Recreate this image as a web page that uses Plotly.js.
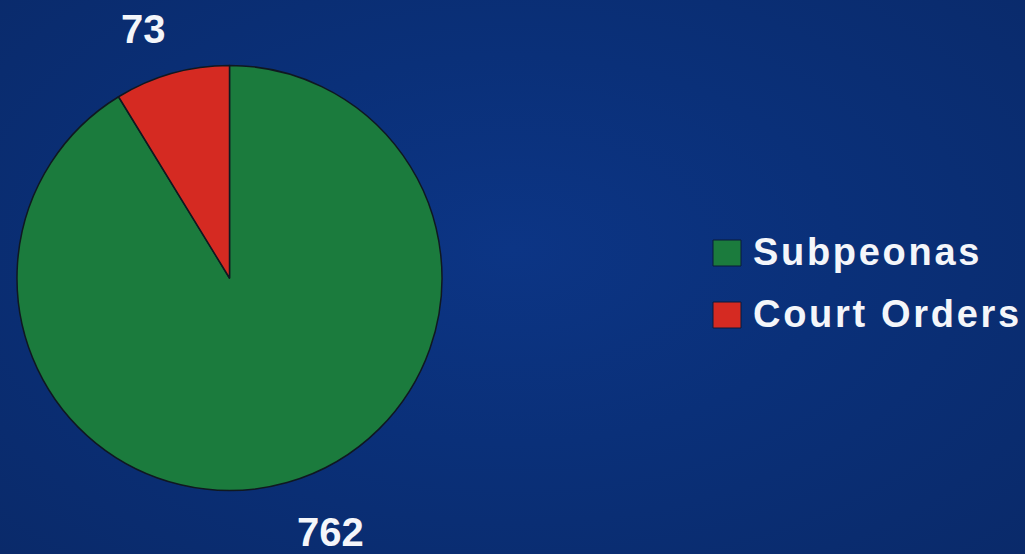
<!DOCTYPE html>
<html>
<head>
<meta charset="utf-8">
<script src="https://cdn.plot.ly/plotly-3.0.1.min.js"></script>
<style>
html,body{margin:0;padding:0;width:1025px;height:554px;overflow:hidden;
background:radial-gradient(ellipse at 50% 45%, #0c3585 0%, #0a3079 45%, #0a2a6a 100%);}
#chart{width:1025px;height:554px;}
</style>
</head>
<body>
<div id="chart"></div>
<script>
const labels = ["Subpeonas", "Court Orders"];
const values = [762, 73];
const colors = ["#1b7b3d", "#d52a22"];

// label positions in paper coordinates (pixel / size)
const W = 1025, H = 554;
const valuePos = [[330, 532], [143, 29]];
const legendPos = [[727, 253], [727, 315]];

const annotations = [];
const shapes = [];
values.forEach((v, i) => {
  annotations.push({
    xref: 'paper', yref: 'paper',
    x: valuePos[i][0] / W, y: 1 - valuePos[i][1] / H,
    text: String(v), showarrow: false,
    xanchor: 'center', yanchor: 'middle',
    font: {family: 'Liberation Sans, Arial, sans-serif', size: 40, color: '#f4f6fa', weight: 'bold'}
  });
});
labels.forEach((lab, i) => {
  const [cx, cy] = legendPos[i];
  shapes.push({
    type: 'rect', xref: 'paper', yref: 'paper',
    x0: (cx - 14) / W, x1: (cx + 14) / W,
    y0: 1 - (cy + 13) / H, y1: 1 - (cy - 13) / H,
    fillcolor: colors[i], line: {color: '#0a1a3a', width: 1}
  });
  annotations.push({
    xref: 'paper', yref: 'paper',
    x: 752 / W, y: 1 - (cy - 1) / H,
    text: '<span style="letter-spacing:2.7px">' + lab + '</span>', showarrow: false,
    xanchor: 'left', yanchor: 'middle', borderpad: 0,
    font: {family: 'Liberation Sans, Arial, sans-serif', size: 38, color: '#f4f6fa', weight: 'bold'}
  });
});

const trace = {
  type: 'pie',
  labels: labels,
  values: values,
  sort: false,
  direction: 'clockwise',
  rotation: 0,
  marker: {colors: colors, line: {color: '#101820', width: 1.5}},
  textinfo: 'none',
  hoverinfo: 'label+value',
  showlegend: false,
  domain: {x: [17 / W, 442 / W], y: [1 - 493 / H, 1 - 63 / H]}
};

const layout = {
  width: W, height: H,
  margin: {l: 0, r: 0, t: 0, b: 0},
  paper_bgcolor: 'rgba(0,0,0,0)',
  plot_bgcolor: 'rgba(0,0,0,0)',
  showlegend: false,
  annotations: annotations,
  shapes: shapes
};

Plotly.newPlot('chart', [trace], layout, {displayModeBar: false, staticPlot: true});
</script>
</body>
</html>
